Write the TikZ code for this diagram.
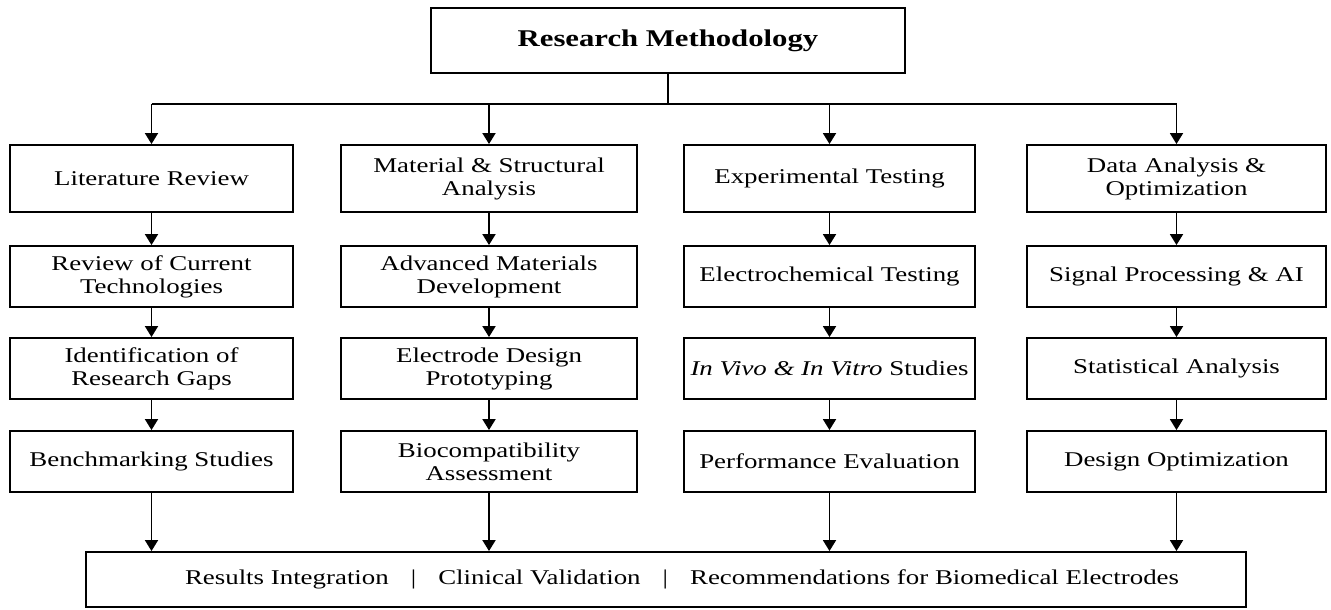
\documentclass[tikz,border=0pt]{standalone}
\usepackage{fontspec}
\setmainfont{Liberation Serif}[FakeStretch=1.28]
\usetikzlibrary{arrows.meta}
\begin{document}
\begin{tikzpicture}[x=1pt,y=-1pt,
  box/.style={draw=black, line width=1.9pt, fill=white, align=center, inner sep=2pt,
    font=\fontsize{21}{23}\selectfont},
  arr/.style={line width=1.9pt, -{Triangle[length=11pt,width=13pt]}},
  ln/.style={line width=1.9pt}]
\useasboundingbox[fill=white] (0,0) rectangle (1331,610);
% top
\node[box, minimum width=474pt, minimum height=65pt, font=\fontsize{24}{26}\selectfont\bfseries] (top) at (668,40.5) {Research Methodology};
% level 1
\node[box, minimum width=283pt, minimum height=67pt] (la) at (151.5,178.5) {Literature Review};
\node[box, minimum width=296pt, minimum height=67pt] (lb) at (489,178.5) {Material \& Structural\\Analysis};
\node[box, minimum width=291pt, minimum height=67pt] (lc) at (829.5,178.5) {Experimental Testing};
\node[box, minimum width=299pt, minimum height=67pt] (ld) at (1176.5,178.5) {Data Analysis \&\\Optimization};
% row 2
\node[box, minimum width=283pt, minimum height=61pt] (ra2) at (151.5,276.5) {Review of Current\\Technologies};
\node[box, minimum width=296pt, minimum height=61pt] (rb2) at (489,276.5) {Advanced Materials\\Development};
\node[box, minimum width=291pt, minimum height=61pt] (rc2) at (829.5,276.5) {Electrochemical Testing};
\node[box, minimum width=299pt, minimum height=61pt] (rd2) at (1176.5,276.5) {Signal Processing \& AI};
% row 3
\node[box, minimum width=283pt, minimum height=61pt] (ra3) at (151.5,368.5) {Identification of\\Research Gaps};
\node[box, minimum width=296pt, minimum height=61pt] (rb3) at (489,368.5) {Electrode Design\\Prototyping};
\node[box, minimum width=291pt, minimum height=61pt] (rc3) at (829.5,368.5) {\textit{In Vivo \& In Vitro} Studies};
\node[box, minimum width=299pt, minimum height=61pt] (rd3) at (1176.5,368.5) {Statistical Analysis};
% row 4
\node[box, minimum width=283pt, minimum height=61pt] (ra4) at (151.5,461.5) {Benchmarking Studies};
\node[box, minimum width=296pt, minimum height=61pt] (rb4) at (489,461.5) {Biocompatibility\\Assessment};
\node[box, minimum width=291pt, minimum height=61pt] (rc4) at (829.5,461.5) {Performance Evaluation};
\node[box, minimum width=299pt, minimum height=61pt] (rd4) at (1176.5,461.5) {Design Optimization};
% bottom
\node[box, minimum width=1160pt, minimum height=55pt] (bot) at (666,579.5)
  {\hspace*{32pt}Results Integration\hspace{1.05em}|\hspace{1.05em}Clinical Validation\hspace{1.05em}|\hspace{1.05em}Recommendations for Biomedical Electrodes};
% branch
\coordinate (br) at (668,104);
\draw[ln] (top.south) -- (br);
\draw[ln] (la.north |- br) -- (ld.north |- br);
\foreach \n in {la,lb,lc,ld}{
  \draw[arr] (\n.north |- br) -- (\n.north);
}
% column arrows
\draw[arr] (la) -- (ra2); \draw[arr] (ra2) -- (ra3); \draw[arr] (ra3) -- (ra4);
\draw[arr] (lb) -- (rb2); \draw[arr] (rb2) -- (rb3); \draw[arr] (rb3) -- (rb4);
\draw[arr] (lc) -- (rc2); \draw[arr] (rc2) -- (rc3); \draw[arr] (rc3) -- (rc4);
\draw[arr] (ld) -- (rd2); \draw[arr] (rd2) -- (rd3); \draw[arr] (rd3) -- (rd4);
\foreach \n in {ra4,rb4,rc4,rd4}{
  \draw[arr] (\n.south) -- (\n.south |- bot.north);
}
\end{tikzpicture}
\end{document}
